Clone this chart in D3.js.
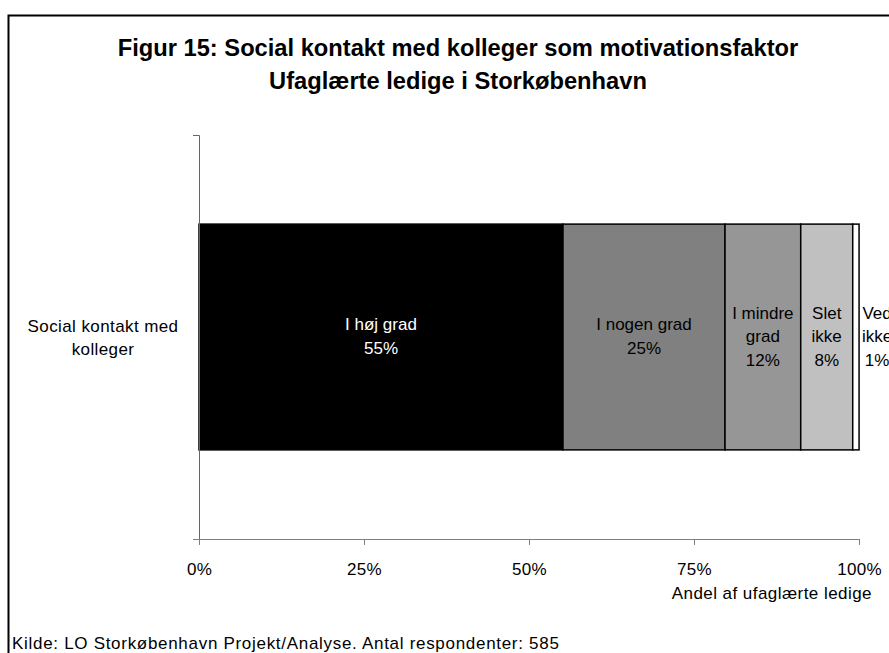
<!DOCTYPE html>
<html>
<head>
<meta charset="utf-8">
<script src="https://cdn.jsdelivr.net/npm/d3@7"></script>
<style>
  body { margin: 0; background: #fff; }
  text { font-family: "Liberation Sans", Arial, sans-serif; }
</style>
</head>
<body>
<svg id="drawing_region"></svg>
<script>
// data
const categories = ['Social kontakt med kolleger'];
const answers = ['I høj grad', 'I nogen grad', 'I mindre grad', 'Slet ikke', 'Ved ikke'];
const shares = [55.15, 24.55, 11.47, 7.88, 0.96];
const shareLabels = ['55%', '25%', '12%', '8%', '1%'];
const xTicks = [0, 25, 50, 75, 100];

const titleLines = ['Figur 15: Social kontakt med kolleger som motivationsfaktor',
                    'Ufaglærte ledige i Storkøbenhavn'];
const xTitle = 'Andel af ufaglærte ledige';
const source = 'Kilde: LO Storkøbenhavn Projekt/Analyse. Antal respondenter: 585';

const fills = ['#000000', '#808080', '#969696', '#c0c0c0', '#ffffff'];
const textFills = ['#ffffff', '#000000', '#000000', '#000000', '#000000'];

class StackedBar {

    constructor( config ) {
        this.config = {
            parent: config.parent,
            width: config.width || 889,
            height: config.height || 653,
            margin: config.margin || {top:135, right:30, bottom:114, left:199}
        }
        this.init();
    }

    init() {
        let self = this;

        self.svg = d3.select( self.config.parent )
            .attr('width', self.config.width)
            .attr('height', self.config.height);

        self.inner_width = self.config.width - self.config.margin.left - self.config.margin.right;
        self.inner_height = self.config.height - self.config.margin.top - self.config.margin.bottom;

        self.chart = self.svg.append('g')
            .attr('transform', `translate(${self.config.margin.left}, ${self.config.margin.top})`);

        self.xscale = d3.scaleLinear()
            .domain([0, 100])
            .range([0, self.inner_width]);

        self.yscale = d3.scaleBand()
            .domain(categories)
            .range([0, self.inner_height])
            .padding(0.283);
    }

    // greedy word wrap to a max width
    wrap( textSel, words, maxWidth ) {
        let lines = [];
        let cur = [];
        const probe = textSel.append('tspan');
        words.forEach( w => {
            const test = cur.concat([w]).join(' ');
            probe.text(test);
            if (cur.length > 0 && probe.node().getComputedTextLength() > maxWidth) {
                lines.push(cur.join(' '));
                cur = [w];
            } else {
                cur.push(w);
            }
        });
        if (cur.length) lines.push(cur.join(' '));
        probe.remove();
        return lines;
    }

    render() {
        let self = this;

        // outer frame (cut by the window at right and bottom)
        self.svg.append('rect')
            .attr('x', 8.5).attr('y', 15.5)
            .attr('width', 1000).attr('height', 1000)
            .attr('fill', 'none')
            .attr('stroke', '#000')
            .attr('stroke-width', 2);

        // title
        self.svg.append('text')
            .attr('x', 458)
            .attr('y', 56)
            .attr('text-anchor', 'middle')
            .attr('font-size', '23.7px')
            .attr('font-weight', 'bold')
            .selectAll('tspan')
            .data(titleLines)
            .join('tspan')
            .attr('x', 458)
            .attr('dy', (d, i) => i === 0 ? 0 : 33)
            .text(d => d);

        // stacked segments
        let acc = 0;
        const segs = shares.map( (v, i) => {
            const s = {name: answers[i], value: v, label: shareLabels[i], x0: acc, x1: acc + v, i: i};
            acc += v;
            return s;
        });

        const cat = categories[0];
        const y0 = self.yscale(cat);
        const bw = self.yscale.bandwidth();

        self.chart.selectAll('rect.seg')
            .data(segs)
            .join('rect')
            .attr('class', 'seg')
            .attr('x', d => self.xscale(d.x0))
            .attr('y', y0)
            .attr('width', d => self.xscale(d.x1) - self.xscale(d.x0))
            .attr('height', bw)
            .attr('fill', d => fills[d.i])
            .attr('stroke', '#000')
            .attr('stroke-width', 1.5);

        // axes
        const xaxis = d3.axisBottom(self.xscale)
            .tickValues(xTicks)
            .tickFormat(d => d + '%')
            .tickSize(6)
            .tickSizeOuter(0)
            .tickPadding(18);

        const xg = self.chart.append('g')
            .attr('transform', `translate(0, ${self.inner_height})`)
            .call(xaxis);
        xg.select('.domain').attr('stroke', '#808080').attr('d', `M-6,0.5H${self.inner_width}`);
        xg.selectAll('.tick line').attr('stroke', '#808080');
        xg.selectAll('.tick text')
            .attr('font-size', '17px')
            .attr('letter-spacing', '0.3px')
            .attr('fill', '#000')
            .attr('font-family', '"Liberation Sans", Arial, sans-serif');

        const ygrp = self.chart.append('g');
        ygrp.append('path')
            .attr('d', `M-6,0.5H0.5V${self.inner_height}`)
            .attr('fill', 'none')
            .attr('stroke', '#666');

        // category label
        const ylab = self.svg.append('text')
            .attr('text-anchor', 'middle')
            .attr('font-size', '17px')
            .attr('letter-spacing', '0.4px')
            .attr('fill', '#000');
        const ylines = self.wrap(ylab, categories[0].split(' '), 170);
        const ycx = 103;
        const ymid = self.config.margin.top + y0 + bw / 2;
        ylab.selectAll('tspan')
            .data(ylines)
            .join('tspan')
            .attr('x', ycx)
            .attr('y', (d, i) => ymid + 6 + (i - (ylines.length - 1) / 2) * 23)
            .text(d => d);

        // segment labels
        segs.forEach( d => {
            const sx0 = self.xscale(d.x0), sx1 = self.xscale(d.x1);
            const w = sx1 - sx0;
            const cx = w > 30 ? (sx0 + sx1) / 2 : sx1 + 18;
            const t = self.chart.append('text')
                .attr('text-anchor', 'middle')
                .attr('font-size', '17px')
                .attr('fill', textFills[d.i]);
            const lines = self.wrap(t, d.name.split(' '), w - 6).concat([d.label]);
            t.selectAll('tspan')
                .data(lines)
                .join('tspan')
                .attr('x', cx)
                .attr('y', (s, i) => y0 + bw / 2 + 5 + (i - (lines.length - 1) / 2) * 23.5)
                .text(s => s);
        });

        // x axis title
        self.svg.append('text')
            .attr('x', 872)
            .attr('y', 599)
            .attr('text-anchor', 'end')
            .attr('font-size', '17px')
            .attr('letter-spacing', '0.45px')
            .text(xTitle);

        // source
        self.svg.append('text')
            .attr('x', 12)
            .attr('y', 649)
            .attr('font-size', '17px')
            .attr('letter-spacing', '0.7px')
            .text(source);
    }
}

const chart = new StackedBar({ parent: '#drawing_region', width: 889, height: 653 });
chart.render();
</script>
</body>
</html>
